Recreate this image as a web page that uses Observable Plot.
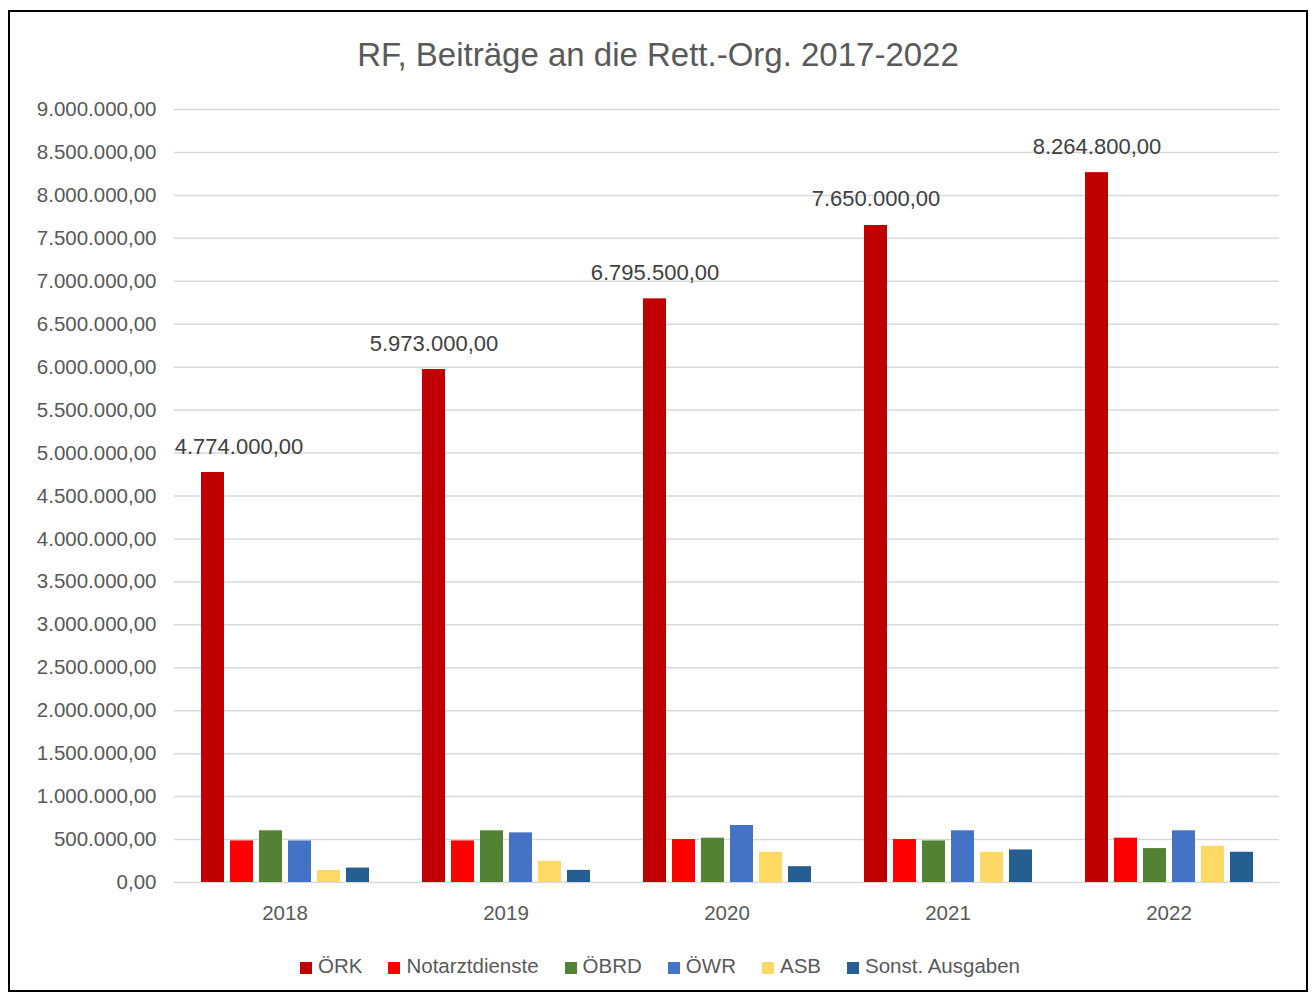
<!DOCTYPE html>
<html>
<head>
<meta charset="utf-8">
<script src="https://cdn.jsdelivr.net/npm/d3@7"></script>
<script src="https://cdn.jsdelivr.net/npm/@observablehq/plot@0.6"></script>
<style>
  html, body { margin: 0; padding: 0; background: #fff; }
  body { width: 1312px; height: 994px; position: relative; overflow: hidden; font-family: "Liberation Sans", Arial, sans-serif; }
  #frame { position: absolute; left: 8px; top: 10px; width: 1300px; height: 982px; box-sizing: border-box; border: 2px solid #000; }
  #title { position: absolute; left: 0; width: 1316px; top: 35px; line-height: 40px; text-align: center; font-size: 33px; color: #595959; }
  #chart { position: absolute; left: 0; top: 90px; }
  #legend { position: absolute; left: 0; width: 1320px; top: 954px; line-height: 24px; display: flex; justify-content: center; gap: 26px; font-size: 20.5px; color: #595959; }
  #legend span.sw { display: inline-block; width: 12px; height: 12px; margin-right: 6px; vertical-align: -1px; }
</style>
</head>
<body>
<div id="frame"></div>
<div id="title">RF, Beiträge an die Rett.-Org. 2017-2022</div>
<div id="chart"></div>
<div id="legend"></div>
<script>
const years = ["2018", "2019", "2020", "2021", "2022"];
const seriesNames = ["ÖRK", "Notarztdienste", "ÖBRD", "ÖWR", "ASB", "Sonst. Ausgaben"];
const seriesColors = ["#C00000", "#FF0000", "#548235", "#4472C4", "#FFD966", "#255E91"];
const oerk = [4774000, 5973000, 6795500, 7650000, 8264800];
const notarzt = [484000, 484000, 500000, 500000, 516000];
const oebrd = [602000, 602000, 516000, 484000, 395000];
const oewr = [484000, 578000, 664000, 602000, 602000];
const asb = [141000, 246000, 352000, 352000, 422000];
const sonst = [168000, 141000, 184000, 379000, 352000];
const yTicks = d3.range(0, 9000001, 500000);

const seriesValues = [oerk, notarzt, oebrd, oewr, asb, sonst];
const data = [];
years.forEach((yr, i) => {
  seriesNames.forEach((s, j) => data.push({year: yr, series: s, value: seriesValues[j][i]}));
});
const fmt = new Intl.NumberFormat("de-DE", {minimumFractionDigits: 2, maximumFractionDigits: 2});
const labelData = data.filter(d => d.series === "ÖRK");

const chart = Plot.plot({
  width: 1312,
  height: 840,
  marginLeft: 173,
  marginRight: 32,
  marginTop: 19,
  marginBottom: 48,
  style: {fontSize: "20.5px", fontFamily: "'Liberation Sans', Arial, sans-serif", color: "#595959", background: "transparent"},
  fx: {domain: years, padding: 0, label: null, tickSize: 0, tickPadding: 23},
  x: {domain: seriesNames, paddingInner: 0.22, paddingOuter: 0.84, axis: null},
  y: {domain: [0, 9000000], ticks: yTicks, tickSize: 0, tickPadding: 18, tickFormat: d => fmt.format(d), label: null},
  color: {domain: seriesNames, range: seriesColors},
  marks: [
    Plot.ruleY(yTicks, {stroke: "#d9d9d9", strokeWidth: 1.5}),
    Plot.barY(data, {fx: "year", x: "series", y: "value", fill: "series"}),
    Plot.text(labelData.filter(d => d.year !== "2018"), {fx: "year", x: "series", y: "value", text: d => fmt.format(d.value), dy: -26, fontSize: 22, fill: "#404040"}),
    Plot.text(labelData.filter(d => d.year === "2018"), {fx: "year", x: "series", y: "value", text: d => fmt.format(d.value), dy: -26, dx: 26, fontSize: 22, fill: "#404040"})
  ]
});
document.getElementById("chart").appendChild(chart);

const legend = document.getElementById("legend");
seriesNames.forEach((s, i) => {
  const item = document.createElement("div");
  const sw = document.createElement("span");
  sw.className = "sw";
  sw.style.background = seriesColors[i];
  item.appendChild(sw);
  item.appendChild(document.createTextNode(s));
  legend.appendChild(item);
});
</script>
</body>
</html>
